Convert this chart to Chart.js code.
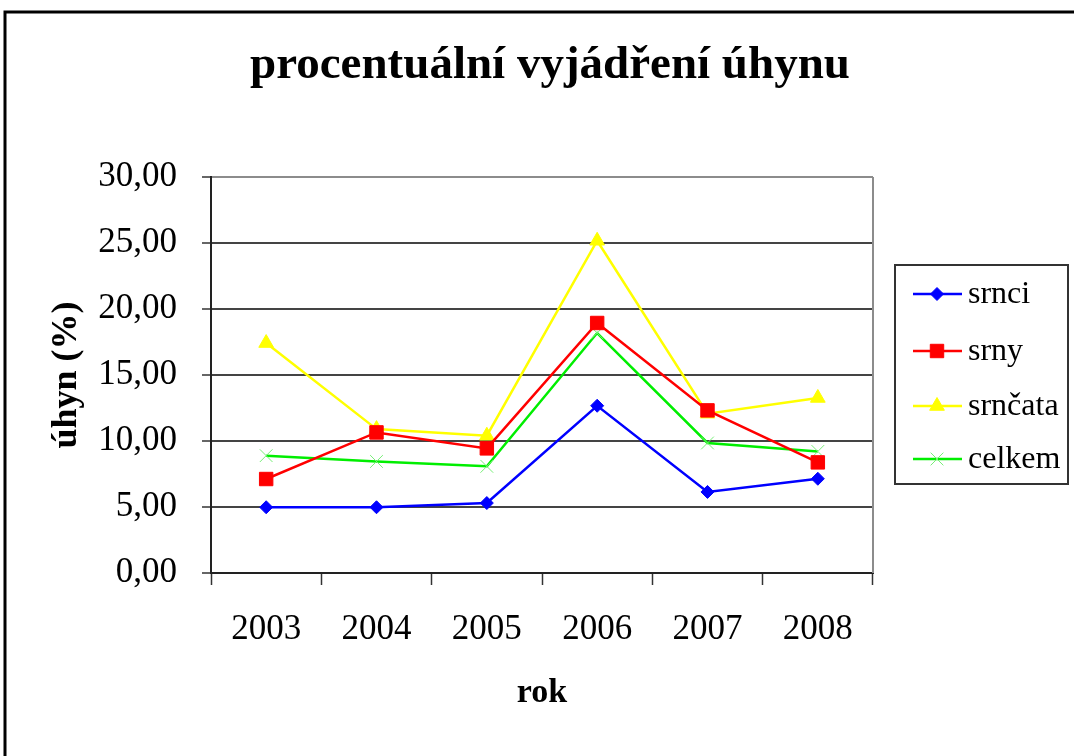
<!DOCTYPE html>
<html>
<head>
<meta charset="utf-8">
<script src="https://cdn.jsdelivr.net/npm/chart.js@4/dist/chart.umd.min.js"></script>
<style>
  body { margin: 0; background: #fff; }
  #wrap { width: 1074px; height: 756px; }
</style>
</head>
<body>
<div id="wrap"><canvas id="uhynChart" width="1074" height="756"></canvas></div>
<script>
// data
const years = ['2003', '2004', '2005', '2006', '2007', '2008'];
const srnci = [4.98, 4.98, 5.30, 12.67, 6.14, 7.14];
const srny = [7.12, 10.65, 9.44, 18.94, 12.32, 8.38];
const srncata = [17.42, 10.90, 10.40, 25.17, 12.07, 13.26];
const celkem = [8.89, 8.45, 8.08, 18.18, 9.85, 9.21];
const yTicks = [0, 5, 10, 15, 20, 25, 30];

const serif = "'Liberation Serif', 'Times New Roman', serif";

// title, frame, plot border and the boxed legend on the right
const excelDecor = {
    id: 'excelDecor',
    afterDraw(chart) {
        const ctx = chart.ctx;
        const area = chart.chartArea;
        ctx.save();

        // outer frame (only top and left are in the picture)
        ctx.strokeStyle = '#000';
        ctx.lineWidth = 3;
        ctx.beginPath();
        ctx.moveTo(5, 756);
        ctx.lineTo(5, 12);
        ctx.lineTo(1074, 12);
        ctx.stroke();

        // right border of plot area
        ctx.strokeStyle = '#8c8c8c';
        ctx.lineWidth = 2;
        ctx.beginPath();
        ctx.moveTo(area.right, area.top);
        ctx.lineTo(area.right, area.bottom);
        ctx.stroke();

        // title
        ctx.fillStyle = '#000';
        ctx.font = 'bold 47px ' + serif;
        ctx.textAlign = 'center';
        ctx.textBaseline = 'alphabetic';
        ctx.fillText('procentuální vyjádření úhynu', 550, 78);

        // legend
        const box = { x: 895, y: 265, w: 173, h: 219 };
        ctx.strokeStyle = '#333';
        ctx.lineWidth = 2;
        ctx.strokeRect(box.x, box.y, box.w, box.h);
        const rows = [294, 351, 406, 459];
        ctx.font = '32px ' + serif;
        ctx.textAlign = 'left';
        ctx.textBaseline = 'middle';
        chart.data.datasets.forEach((ds, i) => {
            const y = rows[i];
            ctx.strokeStyle = ds.borderColor;
            ctx.lineWidth = ds.borderWidth;
            ctx.beginPath();
            ctx.moveTo(913, y);
            ctx.lineTo(962, y);
            ctx.stroke();
            ctx.fillStyle = ds.pointBackgroundColor;
            ctx.strokeStyle = ds.pointBorderColor;
            ctx.lineWidth = ds.pointBorderWidth;
            Chart.helpers.drawPoint(ctx, {
                pointStyle: ds.pointStyle,
                radius: ds.pointRadius,
                borderWidth: ds.pointBorderWidth,
                rotation: 0
            }, 937, y);
            ctx.fillStyle = '#000';
            ctx.fillText(ds.label, 968, y + 1);
        });

        ctx.restore();
    }
};

const ctx = document.getElementById('uhynChart').getContext('2d');
const uhynChart = new Chart(ctx, {
    type: 'line',
    data: {
        labels: years,
        datasets: [
            {
                label: 'srnci',
                data: srnci,
                borderColor: '#0000ff',
                borderWidth: 2.5,
                pointStyle: 'rectRot',
                pointRadius: 6.5,
                pointBackgroundColor: '#0000ff',
                pointBorderColor: '#0000ff',
                pointBorderWidth: 1
            },
            {
                label: 'srny',
                data: srny,
                borderColor: '#ff0000',
                borderWidth: 2.5,
                pointStyle: 'rect',
                pointRadius: 9.5,
                pointBackgroundColor: '#ff0000',
                pointBorderColor: '#ff0000',
                pointBorderWidth: 1
            },
            {
                label: 'srnčata',
                data: srncata,
                borderColor: '#ffff00',
                borderWidth: 2.5,
                pointStyle: 'triangle',
                pointRadius: 8.5,
                pointBackgroundColor: '#ffff00',
                pointBorderColor: '#ffff00',
                pointBorderWidth: 1
            },
            {
                label: 'celkem',
                data: celkem,
                borderColor: '#00ee00',
                borderWidth: 2.5,
                pointStyle: 'crossRot',
                pointRadius: 9,
                pointBackgroundColor: '#77ee77',
                pointBorderColor: '#77ee77',
                pointBorderWidth: 1
            }
        ]
    },
    options: {
        responsive: false,
        animation: false,
        layout: {
            padding: { left: 0, top: 177, right: 201, bottom: 0 }
        },
        elements: {
            line: { tension: 0 }
        },
        scales: {
            x: {
                offset: true,
                afterFit: (scale) => { scale.height = 183; },
                grid: {
                    offset: true,
                    drawOnChartArea: false,
                    tickLength: 12,
                    tickColor: '#333',
                    tickWidth: 1.5
                },
                border: { color: '#222', width: 2 },
                ticks: {
                    color: '#000',
                    padding: 24,
                    maxRotation: 0,
                    font: { family: serif, size: 35 }
                },
                title: {
                    display: true,
                    text: 'rok',
                    color: '#000',
                    padding: { top: 0, bottom: 42 },
                    font: { family: serif, size: 34, weight: 'bold' }
                }
            },
            y: {
                min: 0,
                max: 30,
                afterFit: (scale) => { scale.width = 211; },
                afterBuildTicks: (scale) => {
                    scale.ticks = yTicks.map(v => ({ value: v }));
                },
                grid: {
                    color: (c) => c.tick && c.tick.value === 30 ? '#8c8c8c' : '#444',
                    lineWidth: 2,
                    tickLength: 9,
                    tickColor: '#333',
                    tickWidth: 1.5
                },
                border: { color: '#222', width: 2 },
                ticks: {
                    color: '#000',
                    padding: 25,
                    font: { family: serif, size: 35 },
                    callback: (value) => value.toFixed(2).replace('.', ',')
                },
                title: {
                    display: true,
                    text: 'úhyn (%)',
                    color: '#000',
                    padding: { top: 45, bottom: 0 },
                    font: { family: serif, size: 36, weight: 'bold' }
                }
            }
        },
        plugins: {
            legend: { display: false },
            tooltip: { enabled: false }
        }
    },
    plugins: [excelDecor]
});
</script>
</body>
</html>
